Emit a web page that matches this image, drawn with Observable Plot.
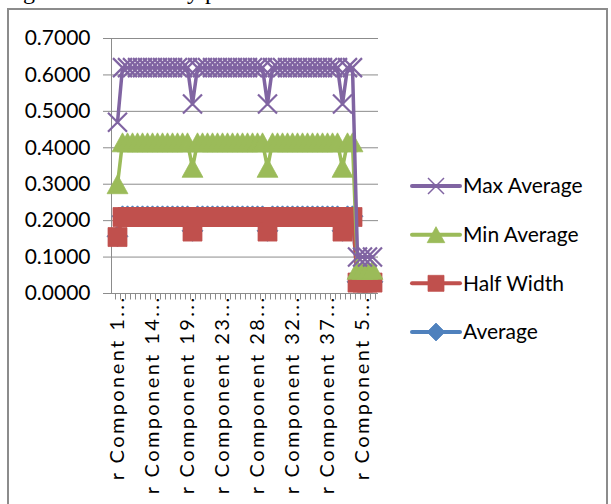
<!DOCTYPE html>
<html>
<head>
<meta charset="utf-8">
<script src="https://cdn.jsdelivr.net/npm/d3@7"></script>
<script src="https://cdn.jsdelivr.net/npm/@observablehq/plot@0.6"></script>
<style>
  html, body { margin: 0; padding: 0; background: #fff; }
  #page { position: relative; width: 611px; height: 504px; overflow: hidden; background: #fff; }
  #caption { position: absolute; left: 3px; top: -21px; font: 24px/24px "Liberation Serif", serif; white-space: pre; color: #000; }
  #border { position: absolute; left: 7px; top: 8px; width: 601px; height: 540px; border: 2px solid #8c8c8c; box-sizing: border-box; }
  #chart, #legend { position: absolute; left: 0; top: 0; }
</style>
</head>
<body>
<div id="page">
  <div id="caption">Figure 5: Sensitivity plot</div>
  <div id="border"></div>
  <div id="chart"></div>
  <div id="legend"></div>
</div>
<script>
// One slot per component along the category axis
const categories = d3.range(52);

// Category labels, shown on every seventh slot
const labelEvery = 7;
const tickLabels = [
  "r Component 1...", "r Component 14...", "r Component 19...", "r Component 23...",
  "r Component 28...", "r Component 32...", "r Component 37...", "r Component 5..."
];

const yTicks = [0, 0.1, 0.2, 0.3, 0.4, 0.5, 0.6, 0.7];

const maxAverage = [
  0.47,
  0.62, 0.62, 0.62, 0.62, 0.62, 0.62, 0.62, 0.62, 0.62, 0.62, 0.62, 0.62, 0.62, 0.62,
  0.52,
  0.62, 0.62, 0.62, 0.62, 0.62, 0.62, 0.62, 0.62, 0.62, 0.62, 0.62, 0.62, 0.62, 0.62,
  0.52,
  0.62, 0.62, 0.62, 0.62, 0.62, 0.62, 0.62, 0.62, 0.62, 0.62, 0.62, 0.62, 0.62, 0.62,
  0.52,
  0.62, 0.62,
  0.10, 0.10, 0.10, 0.10
];

const minAverage = [
  0.30,
  0.415, 0.415, 0.415, 0.415, 0.415, 0.415, 0.415, 0.415, 0.415, 0.415, 0.415, 0.415, 0.415, 0.415,
  0.345,
  0.415, 0.415, 0.415, 0.415, 0.415, 0.415, 0.415, 0.415, 0.415, 0.415, 0.415, 0.415, 0.415, 0.415,
  0.345,
  0.415, 0.415, 0.415, 0.415, 0.415, 0.415, 0.415, 0.415, 0.415, 0.415, 0.415, 0.415, 0.415, 0.415,
  0.345,
  0.415, 0.415,
  0.065, 0.065, 0.065, 0.065
];

const halfWidth = [
  0.155,
  0.21, 0.21, 0.21, 0.21, 0.21, 0.21, 0.21, 0.21, 0.21, 0.21, 0.21, 0.21, 0.21, 0.21,
  0.17,
  0.21, 0.21, 0.21, 0.21, 0.21, 0.21, 0.21, 0.21, 0.21, 0.21, 0.21, 0.21, 0.21, 0.21,
  0.17,
  0.21, 0.21, 0.21, 0.21, 0.21, 0.21, 0.21, 0.21, 0.21, 0.21, 0.21, 0.21, 0.21, 0.21,
  0.17,
  0.21, 0.21,
  0.03, 0.03, 0.03, 0.03
];

const average = [
  0.157,
  0.212, 0.212, 0.212, 0.212, 0.212, 0.212, 0.212, 0.212, 0.212, 0.212, 0.212, 0.212, 0.212, 0.212,
  0.172,
  0.212, 0.212, 0.212, 0.212, 0.212, 0.212, 0.212, 0.212, 0.212, 0.212, 0.212, 0.212, 0.212, 0.212,
  0.172,
  0.212, 0.212, 0.212, 0.212, 0.212, 0.212, 0.212, 0.212, 0.212, 0.212, 0.212, 0.212, 0.212, 0.212,
  0.172,
  0.212, 0.212,
  0.032, 0.032, 0.032, 0.032
];

const gray = "#8c8c8c";
const font = "Lato, 'Open Sans', sans-serif";

// Marker shapes (size is Plot's π·r², so r is recovered from it)
const radius = (size) => Math.sqrt(size / Math.PI);
const squareMarker = { draw(ctx, size) { const r = radius(size); ctx.rect(-r, -r, 2 * r, 2 * r); } };
const triangleMarker = { draw(ctx, size) {
  const r = radius(size);
  ctx.moveTo(0, -r); ctx.lineTo(1.1 * r, r); ctx.lineTo(-1.1 * r, r); ctx.closePath();
} };
const crossMarker = { draw(ctx, size) {
  const r = radius(size);
  ctx.moveTo(-r, -r); ctx.lineTo(r, r); ctx.moveTo(r, -r); ctx.lineTo(-r, r);
} };
const diamondMarker = { draw(ctx, size) {
  const r = radius(size);
  ctx.moveTo(0, -r); ctx.lineTo(r, 0); ctx.lineTo(0, r); ctx.lineTo(-r, 0); ctx.closePath();
} };

// Drawn bottom to top
const series = [
  { name: "Average", values: average, color: "#4F81BD", marker: diamondMarker, r: 10.5, filled: true },
  { name: "Half Width", values: halfWidth, color: "#C0504D", marker: squareMarker, r: 9.5, filled: true },
  { name: "Min Average", values: minAverage, color: "#9BBB59", marker: triangleMarker, r: 9.5, filled: true },
  { name: "Max Average", values: maxAverage, color: "#8064A2", marker: crossMarker, r: 9.5, filled: false }
];

function seriesMarks(s) {
  const rows = categories.map((c, i) => ({ c, v: s.values[i] }));
  return [
    Plot.line(rows, { x: "c", y: "v", stroke: s.color, strokeWidth: 3.5 }),
    Plot.dot(rows, {
      x: "c", y: "v", symbol: s.marker, r: s.r,
      fill: s.filled ? s.color : "none",
      stroke: s.color, strokeWidth: s.filled ? 0.75 : 2.2
    })
  ];
}

// Vertical axis line and tick marks between categories
function categoryAxis(index, scales, values, dims) {
  const x = scales.x, y = scales.y;
  const step = x(categories[1]) - x(categories[0]);
  const y0 = Math.round(y(0)) + 0.5;
  const bounds = categories.map((c) => x(c) - step / 2).concat(x(categories[categories.length - 1]) + step / 2);
  const g = d3.create("svg:g").attr("stroke", gray).attr("stroke-width", 1).attr("fill", "none");
  g.selectAll("line.t").data(bounds).join("line")
    .attr("x1", (d) => Math.round(d) + 0.5).attr("x2", (d) => Math.round(d) + 0.5)
    .attr("y1", y0).attr("y2", y0 + 6);
  const xl = Math.round(dims.marginLeft) + 0.5;
  g.append("line").attr("x1", xl).attr("x2", xl).attr("y1", y(yTicks[yTicks.length - 1])).attr("y2", y0);
  return g.node();
}

const chart = Plot.plot({
  width: 611,
  height: 504,
  marginLeft: 111,
  marginRight: 233,
  marginTop: 38,
  marginBottom: 211,
  style: { background: "transparent", fontFamily: font, fontSize: "21px", color: "#000", overflow: "visible" },
  x: { type: "point", domain: categories, padding: 0.5, axis: null },
  y: { domain: [0, 0.7], axis: null },
  marks: [
    Plot.gridY(yTicks, { stroke: gray, strokeOpacity: 1 }),
    Plot.axisY(yTicks, { tickFormat: d3.format(".4f"), tickSize: 8, tickPadding: 13, stroke: gray, fill: "#000", label: null }),
    Plot.axisX(categories.filter((c) => c % labelEvery === 0), {
      tickFormat: (c) => tickLabels[c / labelEvery],
      tickRotate: -90, tickSize: 0, tickPadding: 2, fill: "#000", fontSize: 20, label: null
    }),
    categoryAxis,
    ...series.flatMap(seriesMarks)
  ]
});
// The category labels are set wide, as in the original worksheet rendering
d3.select(chart).selectAll("[aria-label='x-axis tick label'] text").style("letter-spacing", "2.4px");
document.getElementById("chart").append(chart);

// Legend on the right, listed top to bottom in reverse drawing order
const legend = d3.select("#legend").append("svg")
  .attr("width", 611).attr("height", 504)
  .style("overflow", "visible");
const legendRows = series.slice().reverse();
const rowY = d3.scalePoint().domain(legendRows.map((s) => s.name)).range([186, 332]);
const item = legend.selectAll("g").data(legendRows).join("g")
  .attr("transform", (s) => `translate(0,${rowY(s.name)})`);
item.append("line").attr("x1", 412).attr("x2", 460).attr("y1", 0).attr("y2", 0)
  .attr("stroke", (s) => s.color).attr("stroke-width", 4).attr("stroke-linecap", "round");
item.append("path")
  .attr("transform", "translate(436,0)")
  .attr("d", (s) => d3.symbol(s.marker, Math.PI * (s.r - 1.5) ** 2)())
  .attr("fill", (s) => s.filled ? s.color : "none")
  .attr("stroke", (s) => s.color)
  .attr("stroke-width", (s) => s.filled ? 0.75 : 1.5);
item.append("text").attr("x", 463).attr("dy", "0.35em")
  .style("font-family", font).style("font-size", "21px").attr("fill", "#000")
  .text((s) => s.name);
</script>
</body>
</html>
